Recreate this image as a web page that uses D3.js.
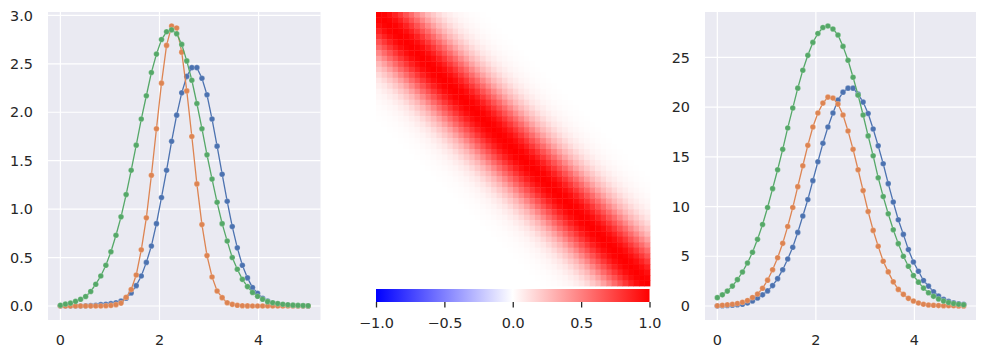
<!DOCTYPE html>
<html>
<head>
<meta charset="utf-8">
<script src="https://cdn.jsdelivr.net/npm/d3@7"></script>
<style>
  html, body { margin: 0; padding: 0; background: #fff; }
  svg { display: block; }
  text { font-family: "DejaVu Sans", sans-serif; font-size: 14.4px; fill: #262626; }
</style>
</head>
<body>
<svg id="chart" width="987" height="358"></svg>
<script>
// sample positions (50 points from 0 to 5)
const xGrid = [0, 0.102, 0.204, 0.306, 0.408, 0.510, 0.612, 0.714, 0.816, 0.918,
  1.020, 1.122, 1.224, 1.327, 1.429, 1.531, 1.633, 1.735, 1.837, 1.939,
  2.041, 2.143, 2.245, 2.347, 2.449, 2.551, 2.653, 2.755, 2.857, 2.959,
  3.061, 3.163, 3.265, 3.367, 3.469, 3.571, 3.673, 3.776, 3.878, 3.980,
  4.082, 4.184, 4.286, 4.388, 4.490, 4.592, 4.694, 4.796, 4.898, 5.000];

// left panel
const leftBlue = [0, 0, 0, 0, 0, 0.002, 0.004, 0.008, 0.014, 0.018,
  0.024, 0.034, 0.05, 0.08, 0.135, 0.21, 0.31, 0.45, 0.62, 0.85,
  1.12, 1.40, 1.70, 1.97, 2.20, 2.37, 2.46, 2.46, 2.35, 2.18,
  1.93, 1.65, 1.36, 1.08, 0.82, 0.60, 0.42, 0.29, 0.19, 0.13,
  0.08, 0.05, 0.03, 0.02, 0.012, 0.008, 0.005, 0.003, 0.002, 0.001];
const leftOrange = [0, 0, 0, 0, 0, 0, 0, 0, 0, 0.002,
  0.006, 0.014, 0.03, 0.09, 0.17, 0.32, 0.58, 0.91, 1.35, 1.83,
  2.30, 2.69, 2.89, 2.87, 2.62, 2.22, 1.75, 1.26, 0.84, 0.52,
  0.30, 0.155, 0.086, 0.034, 0.017, 0.007, 0.003, 0.001, 0, 0,
  0, 0, 0, 0, 0, 0, 0, 0, 0, 0];
const leftGreen = [0.008, 0.02, 0.03, 0.048, 0.07, 0.098, 0.15, 0.225, 0.31, 0.42,
  0.56, 0.73, 0.92, 1.15, 1.40, 1.66, 1.93, 2.17, 2.41, 2.60,
  2.75, 2.83, 2.85, 2.81, 2.70, 2.53, 2.33, 2.09, 1.83, 1.56,
  1.31, 1.07, 0.85, 0.67, 0.50, 0.38, 0.275, 0.20, 0.14, 0.10,
  0.07, 0.045, 0.034, 0.025, 0.018, 0.013, 0.009, 0.006, 0.004, 0.003];

// right panel
const rightBlue = [0, 0.03, 0.05, 0.08, 0.12, 0.18, 0.3, 0.5, 0.8, 1.12,
  1.52, 2.05, 2.75, 3.65, 4.73, 5.9, 7.4, 9.05, 10.7, 12.6,
  14.5, 16.35, 18.0, 19.4, 20.7, 21.5, 21.9, 21.9, 21.3, 20.5,
  19.35, 17.8, 16.1, 14.3, 12.3, 10.45, 8.67, 7.2, 5.67, 4.43,
  3.5, 2.57, 2.0, 1.43, 1.0, 0.67, 0.47, 0.33, 0.23, 0.17];
const rightOrange = [0.02, 0.08, 0.12, 0.17, 0.25, 0.38, 0.55, 0.85, 1.2, 1.78,
  2.6, 3.65, 4.85, 6.3, 8.0, 9.9, 12.0, 14.1, 16.15, 18.0,
  19.4, 20.4, 21.0, 20.9, 20.3, 19.2, 17.6, 15.75, 13.7, 11.6,
  9.5, 7.6, 6.0, 4.5, 3.43, 2.43, 1.67, 1.17, 0.77, 0.5,
  0.3, 0.17, 0.1, 0.07, 0.04, 0.03, 0.02, 0.02, 0.01, 0.01];
const rightGreen = [0.84, 1.12, 1.5, 2.0, 2.65, 3.42, 4.33, 5.4, 6.7, 8.2,
  9.9, 11.8, 13.7, 15.75, 17.9, 19.9, 21.9, 23.7, 25.2, 26.5,
  27.4, 28.0, 28.15, 27.85, 27.25, 26.1, 24.7, 23.0, 21.2, 19.2,
  17.1, 15.1, 12.9, 11.0, 9.27, 7.67, 6.27, 5.0, 4.0, 3.07,
  2.4, 1.8, 1.33, 0.97, 0.7, 0.5, 0.35, 0.25, 0.17, 0.12];

// heatmap: value by distance from the diagonal (|i - j|), 0 beyond the list
const kernelProfile = [1, 0.985, 0.94, 0.87, 0.78, 0.68, 0.58, 0.47, 0.37, 0.28,
  0.21, 0.15, 0.10, 0.07, 0.045, 0.03, 0.018, 0.01, 0.006, 0.003];

const xTicks = [0, 2, 4];
const leftYTicks = [0, 0.5, 1.0, 1.5, 2.0, 2.5, 3.0];
const rightYTicks = [0, 5, 10, 15, 20, 25];
const colorbarTicks = [-1, -0.5, 0, 0.5, 1];

const palette = ['#4C72B0', '#DD8452', '#55A868'];
const svg = d3.select('#chart');

function drawLinePanel(series, box, yTicks, yFormat) {
    const xExt = d3.extent(xGrid);
    const xPad = (xExt[1] - xExt[0]) * 0.05;
    const yExt = d3.extent(series.flat());
    const yPad = (yExt[1] - yExt[0]) * 0.05;

    const x = d3.scaleLinear()
        .domain([xExt[0] - xPad, xExt[1] + xPad])
        .range([box.left, box.right]);
    const y = d3.scaleLinear()
        .domain([yExt[0] - yPad, yExt[1] + yPad])
        .range([box.bottom, box.top]);

    const g = svg.append('g');

    g.append('rect')
        .attr('x', box.left)
        .attr('y', box.top)
        .attr('width', box.right - box.left)
        .attr('height', box.bottom - box.top)
        .style('fill', '#EAEAF2');

    // grid
    g.selectAll('.hgrid')
        .data(yTicks)
        .join('line')
            .classed('hgrid', true)
            .attr('x1', box.left)
            .attr('x2', box.right)
            .attr('y1', d => y(d))
            .attr('y2', d => y(d))
            .style('stroke', 'white')
            .style('stroke-width', 1.2);
    g.selectAll('.vgrid')
        .data(xTicks)
        .join('line')
            .classed('vgrid', true)
            .attr('x1', d => x(d))
            .attr('x2', d => x(d))
            .attr('y1', box.top)
            .attr('y2', box.bottom)
            .style('stroke', 'white')
            .style('stroke-width', 1.2);

    // tick labels
    g.selectAll('.ylab')
        .data(yTicks)
        .join('text')
            .classed('ylab', true)
            .attr('x', box.left - 15)
            .attr('y', d => y(d) + 5.2)
            .style('text-anchor', 'end')
            .text(d => yFormat(d));
    g.selectAll('.xlab')
        .data(xTicks)
        .join('text')
            .classed('xlab', true)
            .attr('x', d => x(d))
            .attr('y', 345)
            .style('text-anchor', 'middle')
            .text(d => d);

    // series: line then markers, in plotting order
    series.forEach((s, k) => {
        const pts = s.map((v, i) => [xGrid[i], v]);
        g.append('path')
            .datum(pts)
            .attr('d', d3.line().x(d => x(d[0])).y(d => y(d[1])))
            .style('fill', 'none')
            .style('stroke', palette[k])
            .style('stroke-width', 1.3);
        g.append('g')
            .selectAll('circle')
            .data(pts)
            .join('circle')
                .attr('cx', d => x(d[0]))
                .attr('cy', d => y(d[1]))
                .attr('r', 2.8)
                .style('fill', palette[k])
                .style('stroke', 'white')
                .style('stroke-opacity', 0.35)
                .style('stroke-width', 0.6);
    });
}

drawLinePanel([leftBlue, leftOrange, leftGreen],
    {left: 48, right: 320.5, top: 12, bottom: 320},
    leftYTicks, d3.format('.1f'));

drawLinePanel([rightBlue, rightOrange, rightGreen],
    {left: 705, right: 976, top: 12, bottom: 320},
    rightYTicks, d3.format('d'));

// heatmap
const n = xGrid.length;
const cells = [];
for (let i = 0; i < n; i++) {
    for (let j = 0; j < n; j++) {
        const d = Math.abs(i - j);
        cells.push({row: i, col: j, value: d < kernelProfile.length ? kernelProfile[d] : 0});
    }
}

const bwr = d3.scaleLinear()
    .domain([-1, 0, 1])
    .range(['#0000ff', '#ffffff', '#ff0000']);

const hx = d3.scaleBand().domain(d3.range(n)).range([376, 650]);
const hy = d3.scaleBand().domain(d3.range(n)).range([12, 286]);

const heat = svg.append('g');
heat.selectAll('rect')
    .data(cells)
    .join('rect')
        .attr('x', d => hx(d.col))
        .attr('y', d => hy(d.row))
        .attr('width', hx.bandwidth() + 0.4)
        .attr('height', hy.bandwidth() + 0.4)
        .style('fill', d => bwr(d.value));

// colorbar
const cb = {left: 376, right: 649.5, top: 289, bottom: 302};
const defs = svg.append('defs');
const grad = defs.append('linearGradient')
    .attr('id', 'bwrGrad')
    .attr('x1', '0%').attr('x2', '100%')
    .attr('y1', '0%').attr('y2', '0%');
grad.selectAll('stop')
    .data([-1, 0, 1])
    .join('stop')
        .attr('offset', d => `${(d + 1) * 50}%`)
        .attr('stop-color', d => bwr(d));

svg.append('rect')
    .attr('x', cb.left)
    .attr('y', cb.top)
    .attr('width', cb.right - cb.left)
    .attr('height', cb.bottom - cb.top)
    .style('fill', 'url(#bwrGrad)');

const cbx = d3.scaleLinear().domain([-1, 1]).range([cb.left, cb.right]);
svg.append('g')
    .attr('transform', `translate(0, ${cb.bottom})`)
    .call(d3.axisBottom(cbx)
        .tickValues(colorbarTicks)
        .tickFormat(d3.format('.1f'))
        .tickSize(5.5)
        .tickPadding(4))
    .call(g => g.select('.domain').remove())
    .call(g => g.selectAll('.tick line')
        .style('stroke', '#262626')
        .style('stroke-width', 1.3))
    .call(g => g.selectAll('.tick text')
        .attr('font-family', null)
        .attr('font-size', null)
        .attr('fill', null)
        .attr('dy', null)
        .attr('y', 26));
</script>
</body>
</html>
